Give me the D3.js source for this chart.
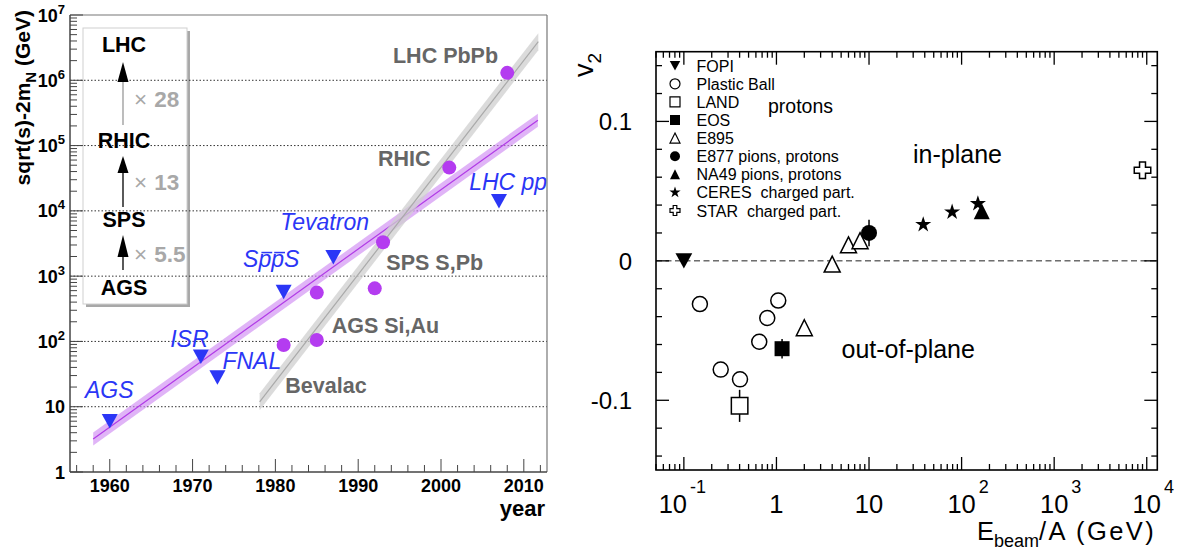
<!DOCTYPE html>
<html>
<head>
<meta charset="utf-8">
<script src="https://cdn.jsdelivr.net/npm/d3@7"></script>
<style>
  body { margin: 0; background: #fff; }
  svg { display: block; font-family: "Liberation Sans", Arial, Helvetica, sans-serif; }
  text { white-space: pre; }
</style>
</head>
<body>
<svg id="fig" width="1188" height="555"></svg>
<script>
// ===================== Left panel: collision energy vs. year =====================
// proton (anti)proton machines
const ppNames  = ["AGS", "ISR", "FNAL", "SppS", "Tevatron", "LHC pp"];
const ppYears  = [1960, 1971, 1973, 1981, 1987, 2007];
const ppEnergy = [6, 58, 28, 570, 1950, 14000];
const ppLabelYears  = [1957.0, 1967.3, 1973.6, 1976.1, 1980.6, 2003.4];
const ppLabelEnergy = [13.6, 82, 37.8, 1378, 5080, 20800];

// heavy-ion machines
const aaYears  = [1981, 1985, 1985, 1992, 1993, 2001, 2008];
const aaEnergy = [88, 105, 560, 650, 3300, 46000, 1.3e6];
const aaNames  = ["LHC PbPb", "RHIC", "SPS S,Pb", "AGS Si,Au", "Bevalac"];
const aaLabelYears  = [1994.2, 1992.4, 1993.4, 1986.8, 1981.2];
const aaLabelEnergy = [1.83e6, 4.85e4, 1240, 134, 16.2];

// exponential trends (end points) and their half-width in decades
const ppTrendYears  = [1958.0, 2011.7];
const ppTrendEnergy = [3.2, 2.45e5];
const ppTrendHalf   = 0.1;
const aaTrendYears  = [1978.1, 2011.75];
const aaTrendEnergy = [11.9, 3.9e6];
const aaTrendHalf   = 0.13;

// energy gain between heavy-ion generations
const stepNames   = ["AGS", "SPS", "RHIC", "LHC"];
const stepFactors = ["5.5", "13", "28"];

const leftYTicks = [1, 10, 1e2, 1e3, 1e4, 1e5, 1e6, 1e7];
const leftXTicks = [1960, 1970, 1980, 1990, 2000, 2010];

// ===================== Right panel: elliptic flow vs. beam energy =====================
const fopiE  = [0.1],   fopiV  = [0.0];
const pbE    = [0.149, 0.25, 0.404, 0.652, 0.796, 1.046];
const pbV    = [-0.031, -0.078, -0.085, -0.058, -0.041, -0.0285];
const landE  = [0.4],   landV  = [-0.104], landErr = [0.0115];
const eosE   = [1.15],  eosV   = [-0.063], eosErr  = [0.007];
const e895E  = [2.0, 4.0, 6.0, 8.0];
const e895V  = [-0.048, -0.0023, 0.0115, 0.0145];
const e877E  = [10],    e877V  = [0.02],   e877Err = [0.0095];
const na49E  = [165],   na49V  = [0.0355];
const ceresE = [38.5, 79, 150];
const ceresV = [0.026, 0.035, 0.041];
const starE  = [9000],  starV  = [0.065];

const legendNames = ["FOPI", "Plastic Ball", "LAND", "EOS", "E895",
  "E877 pions, protons", "NA49 pions, protons", "CERES  charged part.", "STAR  charged part."];
const legendSymbols = ["triDownFilled", "circleOpen", "squareOpen", "squareFilled", "triUpOpen",
  "circleFilled", "triUpFilled", "star", "cross"];

const rightYTicks = [-0.1, 0, 0.1];
const rightYTickText = ["-0.1", "0", "0.1"];
const rightXTicks = [0.1, 1, 10, 100, 1000, 10000];
const rightXBase  = ["10", "1", "10", "10", "10", "10"];
const rightXSup   = ["-1", "", "", "2", "3", "4"];

// ---------------------------------------------------------------------------------
const svg = d3.select("#fig");

// ---------- left panel scales ----------
const L = { x0: 70, x1: 547, y0: 15, y1: 472 };
const xL = d3.scaleLinear().domain([1955.2, 2012.8]).range([L.x0, L.x1]);
const yL = d3.scaleLog().domain([1, 1e7]).range([L.y1, L.y0]);

const gL = svg.append("g");

// inset box with the heavy-ion energy ladder (drawn first so grid lines sit over it)
const box = { x: 83, y: 28, w: 104, h: 276 };
gL.append("rect").attr("x", box.x + 3).attr("y", box.y + 3).attr("width", box.w).attr("height", box.h)
  .attr("fill", "#a8a8a8");
gL.append("rect").attr("x", box.x).attr("y", box.y).attr("width", box.w).attr("height", box.h)
  .attr("fill", "#fff").attr("stroke", "#cfcfcf").attr("stroke-width", 1);

// dotted grid at each decade
gL.append("g").selectAll("line").data(leftYTicks.filter(v => v > 1 && v < 1e7)).join("line")
  .attr("x1", L.x0).attr("x2", L.x1)
  .attr("y1", d => yL(d)).attr("y2", d => yL(d))
  .attr("stroke", "#333").attr("stroke-width", 1).attr("stroke-dasharray", "1.5,2");

// trend bands
function band(years, energy, half, fill, line) {
  const a = Math.log10(energy[0]), b = (Math.log10(energy[1]) - a) / (years[1] - years[0]);
  const pts = [years[0], years[1]].map(t => ({ t, e: Math.pow(10, a + b * (t - years[0])) }));
  const k = Math.pow(10, half);
  gL.append("path").datum(pts)
    .attr("d", d3.area().x(d => xL(d.t)).y0(d => yL(d.e / k)).y1(d => yL(d.e * k)))
    .attr("fill", fill.c).attr("fill-opacity", fill.o);
  gL.append("path").datum(pts)
    .attr("d", d3.line().x(d => xL(d.t)).y(d => yL(d.e)))
    .attr("stroke", line).attr("stroke-width", 1.2).attr("fill", "none");
}
band(ppTrendYears, ppTrendEnergy, ppTrendHalf, { c: "#cf8cf2", o: 0.65 }, "#b13be6");
band(aaTrendYears, aaTrendEnergy, aaTrendHalf, { c: "#cfcfcf", o: 0.75 }, "#a9a9a9");

// heavy-ion points
gL.append("g").selectAll("circle").data(aaYears.map((t, i) => [t, aaEnergy[i]])).join("circle")
  .attr("cx", d => xL(d[0])).attr("cy", d => yL(d[1])).attr("r", 7)
  .attr("fill", "#b43cf0");

// pp points (downward triangles)
const triDown = (w, h) => `M${-w / 2},${-h / 2}L${w / 2},${-h / 2}L0,${h / 2}Z`;
gL.append("g").selectAll("path").data(ppYears.map((t, i) => [t, ppEnergy[i]])).join("path")
  .attr("transform", d => `translate(${xL(d[0])},${yL(d[1])})`)
  .attr("d", triDown(16, 14.5)).attr("fill", "#2b36f6");

// labels for the pp machines
const blue = "#2b36f6";
gL.append("g").selectAll("text").data(ppNames).join("text")
  .attr("x", (d, i) => xL(ppLabelYears[i])).attr("y", (d, i) => yL(ppLabelEnergy[i]))
  .attr("fill", blue).style("font-size", "23px").style("font-style", "italic")
  .text(d => d)
  .each(function (d) {
    if (d !== "SppS") return;
    // anti-proton bars over the two p's
    const node = this, base = +d3.select(this).attr("y");
    [1, 2].forEach(ci => {
      const ext = node.getExtentOfChar(ci);
      gL.append("line")
        .attr("x1", ext.x + 3).attr("x2", ext.x + ext.width + 1)
        .attr("y1", base - 14.5).attr("y2", base - 14.5)
        .attr("stroke", blue).attr("stroke-width", 1.5);
    });
  });

// labels for the heavy-ion machines
gL.append("g").selectAll("text").data(aaNames).join("text")
  .attr("x", (d, i) => xL(aaLabelYears[i])).attr("y", (d, i) => yL(aaLabelEnergy[i]))
  .attr("fill", "#666").style("font-size", "21.5px").style("font-weight", "bold")
  .text(d => d);

// ladder inside the inset
const ladderX = 123;
const ladderY = [295, 227, 147.7, 51.7];        // label baselines, bottom to top
const arrowTail = [270, 207, 125], arrowBase = [257, 173, 82], arrowTip = [235, 156, 62];
const factorY = [261.7, 190, 106.7];
const ladder = gL.append("g");
ladder.selectAll("text.step").data(stepNames).join("text").attr("class", "step")
  .attr("x", ladderX + 1).attr("y", (d, i) => ladderY[i]).attr("text-anchor", "middle")
  .style("font-size", "21.5px").style("font-weight", "bold").attr("fill", "#000").text(d => d);
stepFactors.forEach((f, i) => {
  ladder.append("line").attr("x1", ladderX).attr("x2", ladderX)
    .attr("y1", arrowTail[i]).attr("y2", arrowBase[i])
    .attr("stroke", i === 2 ? "#999" : "#000").attr("stroke-width", 1.3);
  ladder.append("path")
    .attr("d", `M${ladderX},${arrowTip[i]}L${ladderX + 5.5},${arrowBase[i]}L${ladderX - 5.5},${arrowBase[i]}Z`)
    .attr("fill", "#000");
  const t = ladder.append("text").attr("x", 134).attr("y", factorY[i])
    .attr("fill", "#a8a8a8").style("font-size", "22.5px");
  t.append("tspan").text("\u00d7");
  t.append("tspan").attr("dx", 7).style("font-weight", "bold").text(f);
});

// frame
gL.append("line").attr("x1", L.x0).attr("x2", L.x1).attr("y1", L.y0).attr("y2", L.y0)
  .attr("stroke", "#777").attr("stroke-width", 1.2);
gL.append("line").attr("x1", L.x1).attr("x2", L.x1).attr("y1", L.y0).attr("y2", L.y1)
  .attr("stroke", "#777").attr("stroke-width", 1.2);
gL.append("line").attr("x1", L.x0).attr("x2", L.x0).attr("y1", L.y0).attr("y2", L.y1)
  .attr("stroke", "#444").attr("stroke-width", 1.5);
gL.append("line").attr("x1", L.x0).attr("x2", L.x1).attr("y1", L.y1).attr("y2", L.y1)
  .attr("stroke", "#444").attr("stroke-width", 1.5);

// y ticks (log, inward)
const yMinor = [];
for (let k = 0; k < 7; k++) for (let m = 1; m <= 9; m++) yMinor.push({ v: m * Math.pow(10, k), major: m === 1 });
yMinor.push({ v: 1e7, major: true });
gL.append("g").selectAll("line").data(yMinor).join("line")
  .attr("x1", L.x0).attr("x2", d => L.x0 + (d.major ? 13 : 7))
  .attr("y1", d => yL(d.v)).attr("y2", d => yL(d.v))
  .attr("stroke", "#444").attr("stroke-width", 1);
gL.append("g").selectAll("text").data(leftYTicks).join("text")
  .attr("x", 65).attr("y", d => yL(d) + 6.5).attr("text-anchor", "end")
  .style("font-size", "18px").style("font-weight", "bold")
  .each(function (d) {
    const t = d3.select(this), e = Math.round(Math.log10(d));
    if (e === 0) t.text("1");
    else if (e === 1) t.text("10");
    else {
      t.append("tspan").text("10");
      t.append("tspan").attr("dy", -8).style("font-size", "13px").text(e);
    }
  });

// x ticks (every 2 years, inward)
const xMinor = d3.range(1956, 2013, 2);
gL.append("g").selectAll("line").data(xMinor).join("line")
  .attr("x1", d => xL(d)).attr("x2", d => xL(d))
  .attr("y1", L.y1).attr("y2", d => L.y1 - (d % 10 === 0 ? 13 : 7))
  .attr("stroke", "#444").attr("stroke-width", 1);
gL.append("g").selectAll("text").data(leftXTicks).join("text")
  .attr("x", d => xL(d)).attr("y", 492).attr("text-anchor", "middle")
  .style("font-size", "18px").style("font-weight", "bold").text(d => d);

// axis titles
gL.append("text").attr("x", 545).attr("y", 516).attr("text-anchor", "end")
  .style("font-size", "22px").style("font-weight", "bold").text("year");
const yt = gL.append("text").attr("transform", "translate(30,10) rotate(-90)")
  .attr("text-anchor", "end").style("font-size", "21px").style("font-weight", "bold");
yt.append("tspan").text("sqrt(s)-2m");
yt.append("tspan").attr("dy", 6).style("font-size", "15px").text("N");
yt.append("tspan").attr("dy", -6).text(" (GeV)");

// ===================== right panel =====================
const R = { x0: 656, x1: 1157.3, y0: 51.7, y1: 470 };
const xR = d3.scaleLog().domain([0.05, 1.3e4]).range([R.x0, R.x1]);
const yR = d3.scaleLinear().domain([-0.15, 0.15]).range([R.y1, R.y0]);
const gR = svg.append("g");

// zero line
gR.append("line").attr("x1", R.x0).attr("x2", R.x1).attr("y1", yR(0)).attr("y2", yR(0))
  .attr("stroke", "#222").attr("stroke-width", 1).attr("stroke-dasharray", "6,3.5");

// marker shapes
const shapes = {
  triDownFilled: (s) => ({ d: triDown(s * 1.05, s * 0.95), fill: "#000", stroke: "none" }),
  triUpOpen: (s) => ({ d: `M0,${-s / 2}L${s / 2},${s / 2}L${-s / 2},${s / 2}Z`, fill: "#fff", stroke: "#000" }),
  triUpFilled: (s) => ({ d: `M0,${-s / 2}L${s / 2},${s / 2}L${-s / 2},${s / 2}Z`, fill: "#000", stroke: "none" }),
  squareOpen: (s) => ({ d: `M${-s / 2},${-s / 2}h${s}v${s}h${-s}Z`, fill: "#fff", stroke: "#000" }),
  squareFilled: (s) => ({ d: `M${-s / 2},${-s / 2}h${s}v${s}h${-s}Z`, fill: "#000", stroke: "none" }),
  circleOpen: (s) => ({ d: d3.symbol(d3.symbolCircle, Math.PI * s * s / 4)(), fill: "#fff", stroke: "#000" }),
  circleFilled: (s) => ({ d: d3.symbol(d3.symbolCircle, Math.PI * s * s / 4)(), fill: "#000", stroke: "none" }),
  star: (s) => ({ d: d3.symbol(d3.symbolStar, s * s / 3.6)(), fill: "#000", stroke: "none" }),
  cross: (s) => {
    const a = s * 0.18, b = s / 2;
    return { d: `M${-a},${-b}H${a}V${-a}H${b}V${a}H${a}V${b}H${-a}V${a}H${-b}V${-a}H${-a}Z`, fill: "#fff", stroke: "#000" };
  }
};
function drawSeries(E, V, shape, size, err) {
  const g = gR.append("g");
  const pts = E.map((e, i) => ({ e, v: V[i], err: err ? err[i] : 0 }));
  if (err) {
    g.selectAll("line").data(pts).join("line")
      .attr("x1", d => xR(d.e)).attr("x2", d => xR(d.e))
      .attr("y1", d => yR(d.v - d.err)).attr("y2", d => yR(d.v + d.err))
      .attr("stroke", "#000").attr("stroke-width", 1.5);
  }
  const sp = shapes[shape](size);
  g.selectAll("path").data(pts).join("path")
    .attr("transform", d => `translate(${xR(d.e)},${yR(d.v)})`)
    .attr("d", sp.d).attr("fill", sp.fill).attr("stroke", sp.stroke).attr("stroke-width", 1.5);
}
drawSeries(landE, landV, "squareOpen", 16.5, landErr);
drawSeries(pbE, pbV, "circleOpen", 15);
drawSeries(fopiE, fopiV, "triDownFilled", 16);
drawSeries(eosE, eosV, "squareFilled", 15, eosErr);
drawSeries(e895E, e895V, "triUpOpen", 16);
drawSeries(e877E, e877V, "circleFilled", 16, e877Err);
drawSeries(na49E, na49V, "triUpFilled", 16);
drawSeries(ceresE, ceresV, "star", 17);
drawSeries(starE, starV, "cross", 16.5);

// legend
const leg = gR.append("g");
legendNames.forEach((name, i) => {
  const cy = 65.7 + i * 18.1;
  const sp = shapes[legendSymbols[i]](legendSymbols[i] === "star" ? 12 : 10);
  leg.append("path").attr("transform", `translate(675,${cy})`).attr("d", sp.d)
    .attr("fill", sp.fill).attr("stroke", sp.stroke).attr("stroke-width", 1.2);
  leg.append("text").attr("x", 696.5).attr("y", cy + 6).style("font-size", "16px").text(name);
});

// region annotations
gR.append("text").attr("x", 768).attr("y", 113).style("font-size", "19.5px").text("protons");
gR.append("text").attr("x", 913).attr("y", 163).style("font-size", "25px").text("in-plane");
gR.append("text").attr("x", 841.5).attr("y", 358).style("font-size", "25px").text("out-of-plane");

// frame
gR.append("rect").attr("x", R.x0).attr("y", R.y0).attr("width", R.x1 - R.x0).attr("height", R.y1 - R.y0)
  .attr("fill", "none").attr("stroke", "#000").attr("stroke-width", 1.6);

// y ticks, both sides
const vTicks = d3.range(-7, 8).map(k => ({ v: k * 0.02, major: k % 5 === 0 }));
gR.append("g").selectAll("line").data(vTicks).join("line")
  .attr("x1", R.x0).attr("x2", d => R.x0 + (d.major ? 13 : 6))
  .attr("y1", d => yR(d.v)).attr("y2", d => yR(d.v)).attr("stroke", "#000").attr("stroke-width", 1.3);
gR.append("g").selectAll("line").data(vTicks).join("line")
  .attr("x1", R.x1).attr("x2", d => R.x1 - (d.major ? 13 : 6))
  .attr("y1", d => yR(d.v)).attr("y2", d => yR(d.v)).attr("stroke", "#000").attr("stroke-width", 1.3);
gR.append("g").selectAll("text").data(rightYTicks).join("text")
  .attr("x", 632).attr("y", d => yR(d) + 9).attr("text-anchor", "end")
  .style("font-size", "24px").text((d, i) => rightYTickText[i]);

// x ticks, bottom and top
const eTicks = [];
for (let k = -2; k <= 4; k++) for (let m = 1; m <= 9; m++) {
  const v = m * Math.pow(10, k);
  if (v >= 0.05 && v <= 1.3e4) eTicks.push({ v, major: m === 1 });
}
gR.append("g").selectAll("line").data(eTicks).join("line")
  .attr("x1", d => xR(d.v)).attr("x2", d => xR(d.v))
  .attr("y1", R.y1).attr("y2", d => R.y1 - (d.major ? 13 : 6)).attr("stroke", "#000").attr("stroke-width", 1.3);
gR.append("g").selectAll("line").data(eTicks).join("line")
  .attr("x1", d => xR(d.v)).attr("x2", d => xR(d.v))
  .attr("y1", R.y0).attr("y2", d => R.y0 + (d.major ? 13 : 6)).attr("stroke", "#000").attr("stroke-width", 1.3);
gR.append("g").selectAll("text").data(rightXTicks).join("text")
  .attr("x", (d, i) => xR(d) - (rightXSup[i].length > 1 ? 11 : 0) - rightXBase[i].length * 7.1)
  .attr("y", 513)
  .style("font-size", "25.5px")
  .each(function (d, i) {
    const t = d3.select(this);
    t.append("tspan").text(rightXBase[i]);
    if (rightXSup[i]) t.append("tspan").attr("dx", 3).attr("dy", -20).style("font-size", "18px").text(rightXSup[i]);
  });

// axis titles
const xt = gR.append("text").attr("x", 977).attr("y", 540).style("font-size", "25.5px");
xt.append("tspan").text("E");
xt.append("tspan").attr("dy", 7).style("font-size", "18px").text("beam");
xt.append("tspan").attr("dy", -7).style("letter-spacing", "2.4px").text("/A (GeV)");
const vt = gR.append("text").attr("transform", "translate(593,77) rotate(-90)").style("font-size", "27px");
vt.append("tspan").text("v");
vt.append("tspan").attr("dy", 8).style("font-size", "19px").text("2");
</script>
</body>
</html>
